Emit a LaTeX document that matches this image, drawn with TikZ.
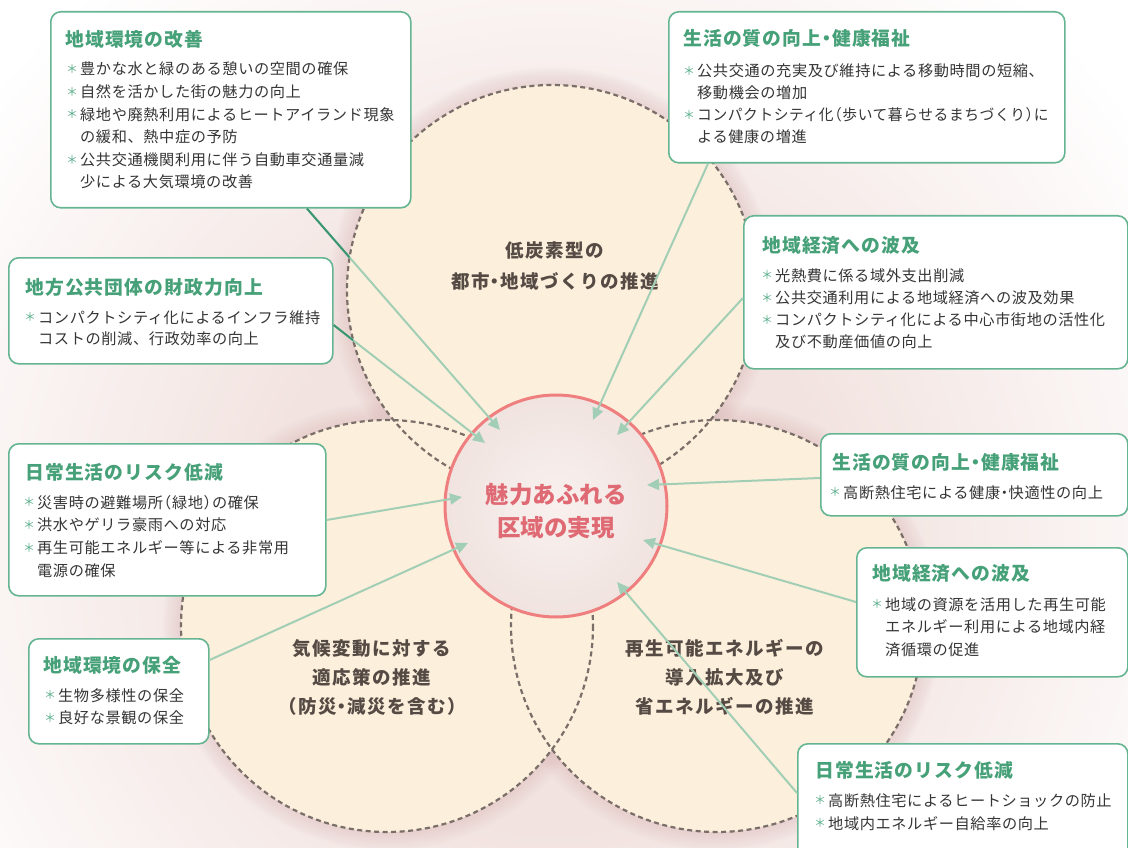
\documentclass[tikz,border=0pt]{standalone}
\usepackage{fontspec}
\usepackage{graphicx}
\setmainfont{Noto Sans CJK JP}
\newfontfamily\bodyf[LetterSpace=4]{Noto Sans CJK JP}
\newfontfamily\ttlf[LetterSpace=6]{Noto Sans CJK JP}
\newfontfamily\lblf[LetterSpace=8]{Noto Sans CJK JP}
\usetikzlibrary{arrows.meta,calc}
\definecolor{bgpink}{HTML}{F2E3E0}
\definecolor{glowc}{HTML}{D9B5B5}
\definecolor{cream}{HTML}{FCF0DC}
\definecolor{dashc}{HTML}{7A6E69}
\definecolor{boxc}{HTML}{66B592}
\definecolor{ttlc}{HTML}{46A078}
\definecolor{bulc}{HTML}{5DB08E}
\definecolor{txtc}{HTML}{353535}
\definecolor{lblc}{HTML}{554B44}
\definecolor{connl}{HTML}{A2CEB5}
\definecolor{conndk}{HTML}{3C9673}
\definecolor{redc}{HTML}{EF7E7E}
\definecolor{ctxtc}{HTML}{DF6A74}
\definecolor{ccin}{HTML}{F9F1EE}
\definecolor{ccout}{HTML}{F0E3E0}
\pgfdeclareradialshading{bgglow}{\pgfpoint{0bp}{0bp}}{color(0bp)=(bgpink); color(10bp)=(bgpink); color(25bp)=(white); color(50bp)=(white)}
\newcommand\bul{\makebox[14pt][l]{\raisebox{1.2pt}{\textcolor{bulc}{\fontsize{12}{12}\selectfont ＊}}}}
\newcommand\ind{\hspace*{14pt}}
\newcommand\lp{\kern-0.45em（}
\newcommand\rp{）\kern-0.45em}
\newcommand\dt{\kern-0.22em・\kern-0.22em}
\newcommand\blines[1]{\begin{tabular}[t]{@{}l@{}}#1\end{tabular}}
\tikzset{
  box/.style={draw=boxc, line width=1.6pt, fill=white, rounded corners=10pt, inner sep=0pt, anchor=north west},
  ttl/.style={anchor=base west, inner sep=0pt, text=ttlc, font=\ttlf\bfseries\fontsize{18.8}{22}\selectfont},
  body/.style={anchor=base west, inner sep=0pt, text=txtc, font=\bodyf\fontsize{15.2}{#1}\selectfont},
  body/.default=22,
  lbl/.style={align=center, inner sep=0pt, text=lblc, font=\lblf\bfseries\fontsize{18.5}{#1}\selectfont},
  lbl/.default=29,
  ctext/.style={align=center, inner sep=0pt, text=ctxtc, font=\bfseries\fontsize{23.5}{33}\selectfont},
  dashborder/.style={draw=dashc, line width=2.2pt, dash pattern=on 5pt off 3.5pt},
  conn/.style={draw=connl, line width=2pt, -{Triangle[length=12pt,width=11pt]}},
  conndark/.style={draw=conndk, line width=2pt},
}
\begin{document}
\begin{tikzpicture}[x=1pt,y=-1pt]
\useasboundingbox (0,0) rectangle (1128,848);
\fill[white] (0,0) rectangle (1128,848);
\begin{scope}
  \clip (0,0) rectangle (1128,848);
  \shade[shading=bgglow] (552,540) circle (720);
\end{scope}
% circle centres
\coordinate (ctop) at (552,290);
\coordinate (cleft) at (387,626);
\coordinate (cright) at (717,626);
% glow
\foreach \c/\r in {ctop/205, cleft/206, cright/206}{
  \foreach \k in {1,...,10}{
    \fill[glowc, opacity=0.045] (\c) circle ({\r+1.8*\k});
  }
}
\foreach \c/\r in {ctop/205, cleft/206, cright/206}{
  \fill[cream] (\c) circle (\r);
}
\foreach \c/\r in {ctop/205, cleft/206, cright/206}{
  \draw[dashborder] (\c) circle (\r);
}
% centre circle
\node[circle, minimum size=222pt, inner sep=0pt, outer sep=0pt, draw=redc, line width=3pt, inner color=ccin, outer color=ccout] (cc) at (556,506) {};
\node[ctext] (cctext) at (556,511) {魅力あふれる\\区域の実現};
% circle labels
\node[lbl=31] (ltop) at (555,266) {低炭素型の\\都市\dt 地域づくりの推進};
\node[lbl] (lleft) at (372,677) {気候変動に対する\\適応策の推進\\\lp 防災\dt 減災を含む\rp};
\node[lbl] (lright) at (725,677) {再生可能エネルギーの\\導入拡大及び\\省エネルギーの推進};
% boxes
\node[box, minimum width=360pt, minimum height=196pt] (b1) at (50,11) {};
\node[box, minimum width=396pt, minimum height=151pt] (b2) at (668,11) {};
\node[box, minimum width=324pt, minimum height=106pt] (b3) at (8,257) {};
\node[box, minimum width=384pt, minimum height=153pt] (b4) at (743,215) {};
\node[box, minimum width=317pt, minimum height=152pt] (b5) at (8,443) {};
\node[box, minimum width=180pt, minimum height=105pt] (b6) at (28,638) {};
\node[box, minimum width=307pt, minimum height=82pt] (b7) at (820,433) {};
\node[box, minimum width=271pt, minimum height=129pt] (b8) at (856,547) {};
\node[box, minimum width=330pt, minimum height=117pt] (b9) at (797,743) {};
% box texts
\node[ttl] (t1) at (65,47) {地域環境の改善};
\node[body=22.6] (x1) at (66,75) {\blines{\bul 豊かな水と緑のある憩いの空間の確保\\\bul 自然を活かした街の魅力の向上\\\bul 緑地や廃熱利用によるヒートアイランド現象\\\ind の緩和、熱中症の予防\\\bul 公共交通機関利用に伴う自動車交通量減\\\ind 少による大気環境の改善}};
\node[ttl] (t2) at (683,46) {生活の質の向上\dt 健康福祉};
\node[body=22] (x2) at (683,77) {\blines{\bul 公共交通の充実及び維持による移動時間の短縮、\\\ind 移動機会の増加\\\bul \scalebox{0.97}[1]{コンパクトシティ化\lp 歩いて暮らせるまちづくり\rp に}\\\ind よる健康の増進}};
\node[ttl] (t3) at (25,294) {地方公共団体の財政力向上};
\node[body=21.5] (x3) at (24,323) {\blines{\bul コンパクトシティ化によるインフラ維持\\\ind コストの削減、行政効率の向上}};
\node[ttl] (t4) at (762,252) {地域経済への波及};
\node[body=22.3] (x4) at (761,281) {\blines{\bul 光熱費に係る域外支出削減\\\bul 公共交通利用による地域経済への波及効果\\\bul コンパクトシティ化による中心市街地の活性化\\\ind 及び不動産価値の向上}};
\node[ttl] (t5) at (25,479) {日常生活のリスク低減};
\node[body=22.7] (x5) at (23,508) {\blines{\bul 災害時の避難場所\lp 緑地\rp の確保\\\bul 洪水やゲリラ豪雨への対応\\\bul 再生可能エネルギー等による非常用\\\ind 電源の確保}};
\node[ttl] (t6) at (43,672) {地域環境の保全};
\node[body=22.5] (x6) at (44,701) {\blines{\bul 生物多様性の保全\\\bul 良好な景観の保全}};
\node[ttl] (t7) at (832,469) {生活の質の向上\dt 健康福祉};
\node[body] (x7) at (829,498) {\blines{\bul 高断熱住宅による健康\dt 快適性の向上}};
\node[ttl] (t8) at (872,580) {地域経済への波及};
\node[body=22.5] (x8) at (871,610) {\blines{\bul 地域の資源を活用した再生可能\\\ind エネルギー利用による地域内経\\\ind 済循環の促進}};
\node[ttl] (t9) at (815,777) {日常生活のリスク低減};
\node[body=23] (x9) at (814,806) {\blines{\bul 高断熱住宅によるヒートショックの防止\\\bul 地域内エネルギー自給率の向上}};
% connector ends
\coordinate (s1) at ($(b1.south west)+(257,0)$);
\coordinate (s2) at ($(b3.north east)+(0,68)$);
\coordinate (s3) at ($(b2.south west)+(40,0)$);
\coordinate (s4) at ($(b4.north west)+(0,83)$);
\coordinate (s5) at ($(b7.north west)+(0,45)$);
\coordinate (s6) at ($(b8.north west)+(0,55)$);
\coordinate (s7) at ($(b5.north east)+(0,77)$);
\coordinate (s8) at ($(b6.north east)+(0,22)$);
\coordinate (s9) at ($(b9.north west)+(0,50)$);
\coordinate (e1) at ($(cc.center)+(-56,-76)$);
\coordinate (e2) at ($(cc.center)+(-71,-63)$);
\coordinate (e3) at ($(cc.center)+(37,-86)$);
\coordinate (e4) at ($(cc.center)+(61,-71)$);
\coordinate (e5) at ($(cc.center)+(91,-21)$);
\coordinate (e6) at ($(cc.center)+(87,34)$);
\coordinate (e7) at ($(cc.center)+(-94,-9)$);
\coordinate (e8) at ($(cc.center)+(-88,37)$);
\coordinate (e9) at ($(cc.center)+(61,76)$);
\foreach \i in {1,...,9}{
  \draw[conn] (s\i) -- (e\i);
}
\begin{scope}[even odd rule]
  \clip (-20,-20) rectangle (1150,870) (ctop) circle (205);
  \clip (-20,-20) rectangle (1150,870) (cleft) circle (206);
  \clip (-20,-20) rectangle (1150,870) (cright) circle (206);
  \foreach \i in {1,...,9}{
    \draw[conndark] (s\i) -- (e\i);
  }
\end{scope}
\end{tikzpicture}
\end{document}
